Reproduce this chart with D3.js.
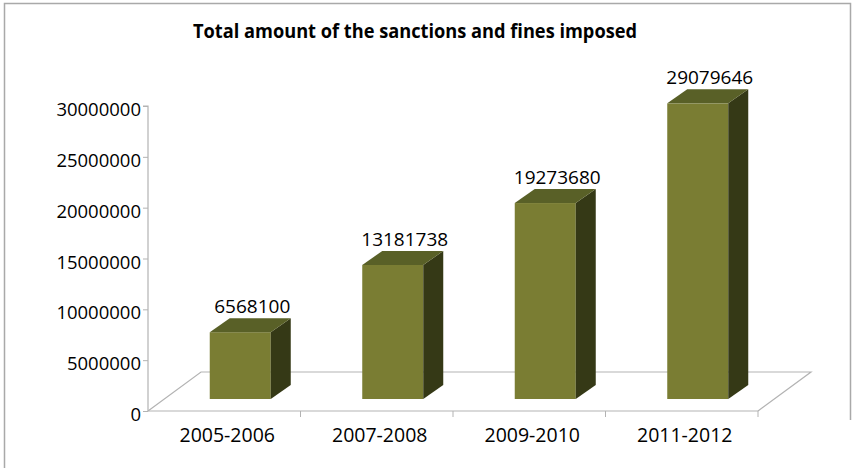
<!DOCTYPE html>
<html>
<head>
<meta charset="utf-8">
<script src="https://cdn.jsdelivr.net/npm/d3@7"></script>
<style>
  body { margin: 0; background: #fff; }
  svg text { font-family: "Open Sans", sans-serif; fill: #000; }
</style>
</head>
<body>
<div class="bar-chart"></div>
<script>
// chart data
var periods = ["2005-2006", "2007-2008", "2009-2010", "2011-2012"];
var amounts = [6568100, 13181738, 19273680, 29079646];
var yTicks = [0, 5000000, 10000000, 15000000, 20000000, 25000000, 30000000];
var chartTitle = "Total amount of the sanctions and fines imposed";

var W = 856, H = 468;

// floor / 3d settings
var floor = {left: 148, right: 758, front: 411, dx: 53, dy: -39};
var barShift = {dx: 16, dy: -12};   // bar front face sits a bit back on the floor
var barDepth = {dx: 20, dy: -14};

var colors = {front: "#7a7d33", top: "#596027", side: "#353916", grid: "#b3b3b3"};

var svg = d3.select(".bar-chart").append("svg")
    .attr("width", W)
    .attr("height", H);

// outer frame
svg.append("path")
    .attr("d", "M4.5,468 V3.5 H850.5 V420")
    .attr("fill", "none")
    .attr("stroke", "#a9a9a9")
    .attr("stroke-width", 1.5);

svg.append("text")
    .attr("x", 415)
    .attr("y", 38)
    .attr("text-anchor", "middle")
    .attr("font-weight", "bold")
    .attr("font-size", 19)
    .attr("textLength", 444)
    .attr("lengthAdjust", "spacingAndGlyphs")
    .text(chartTitle);

var x = d3.scaleBand()
    .domain(periods)
    .range([floor.left, floor.right])
    .paddingInner(0.6)
    .paddingOuter(0.3);

var y = d3.scaleLinear()
    .domain([0, 30000000])
    .range([floor.front, 106]);

// floor outline
var g = svg.append("g");
g.append("path")
    .attr("d", "M" + floor.left + "," + floor.front +
        " L" + (floor.left + floor.dx) + "," + (floor.front + floor.dy) +
        " H" + (floor.right + floor.dx) +
        " L" + floor.right + "," + floor.front)
    .attr("fill", "none")
    .attr("stroke", colors.grid)
    .attr("stroke-width", 1.2);

// category ticks along the front edge
var step = x.step();
g.selectAll(".xtick")
    .data(d3.range(1, periods.length + 1))
    .enter().append("line")
    .attr("x1", function(k) { return floor.left + k * step; })
    .attr("x2", function(k) { return floor.left + k * step; })
    .attr("y1", floor.front)
    .attr("y2", floor.front + 6)
    .attr("stroke", colors.grid);

// y axis
var yAxis = svg.append("g")
    .attr("transform", "translate(" + floor.left + ",0)")
    .call(d3.axisLeft(y).tickValues(yTicks).tickSize(5).tickPadding(2).tickFormat(d3.format("d")));
yAxis.select(".domain").attr("stroke", colors.grid).attr("stroke-width", 1.2)
    .attr("d", "M-5," + y(30000000) + "H0V" + floor.front + "H" + (floor.right - floor.left));
yAxis.selectAll(".tick line").attr("stroke", colors.grid);
yAxis.selectAll(".tick text")
    .attr("font-size", 18.5)
    .attr("dy", "0.68em")
    .attr("y", -3)
    .style("font-family", "'Open Sans', sans-serif");

// bars
var bw = x.bandwidth();
var bars = svg.selectAll(".bar")
    .data(amounts)
    .enter().append("g")
    .attr("class", "bar");

function fx(d, i) { return x(periods[i]) + barShift.dx; }
function base() { return floor.front + barShift.dy; }
function topY(d) { return base() - (floor.front - y(d)); }

bars.append("rect")
    .attr("x", fx)
    .attr("y", topY)
    .attr("width", bw)
    .attr("height", function(d) { return base() - topY(d); })
    .attr("fill", colors.front);

bars.append("path")
    .attr("fill", colors.side)
    .attr("d", function(d, i) {
        var x0 = fx(d, i) + bw, t = topY(d), b = base();
        return "M" + x0 + "," + t + " l" + barDepth.dx + "," + barDepth.dy +
            " V" + (b + barDepth.dy) + " L" + x0 + "," + b + "Z";
    });

bars.append("path")
    .attr("fill", colors.top)
    .attr("d", function(d, i) {
        var x0 = fx(d, i), t = topY(d);
        return "M" + x0 + "," + t + " h" + bw + " l" + barDepth.dx + "," + barDepth.dy +
            " h" + (-bw) + "Z";
    });

// value labels
bars.append("text")
    .attr("x", function(d, i) { return fx(d, i) + (bw + barDepth.dx) / 2 + 2; })
    .attr("y", function(d) { return topY(d) + barDepth.dy - 5; })
    .attr("text-anchor", "middle")
    .attr("font-size", 19)
    .text(function(d) { return d; });

// category labels
svg.selectAll(".xlabel")
    .data(periods)
    .enter().append("text")
    .attr("x", function(d) { return x(d) + bw / 2 + 3; })
    .attr("y", 442)
    .attr("text-anchor", "middle")
    .attr("font-size", 19.5)
    .text(function(d) { return d; });
</script>
</body>
</html>
